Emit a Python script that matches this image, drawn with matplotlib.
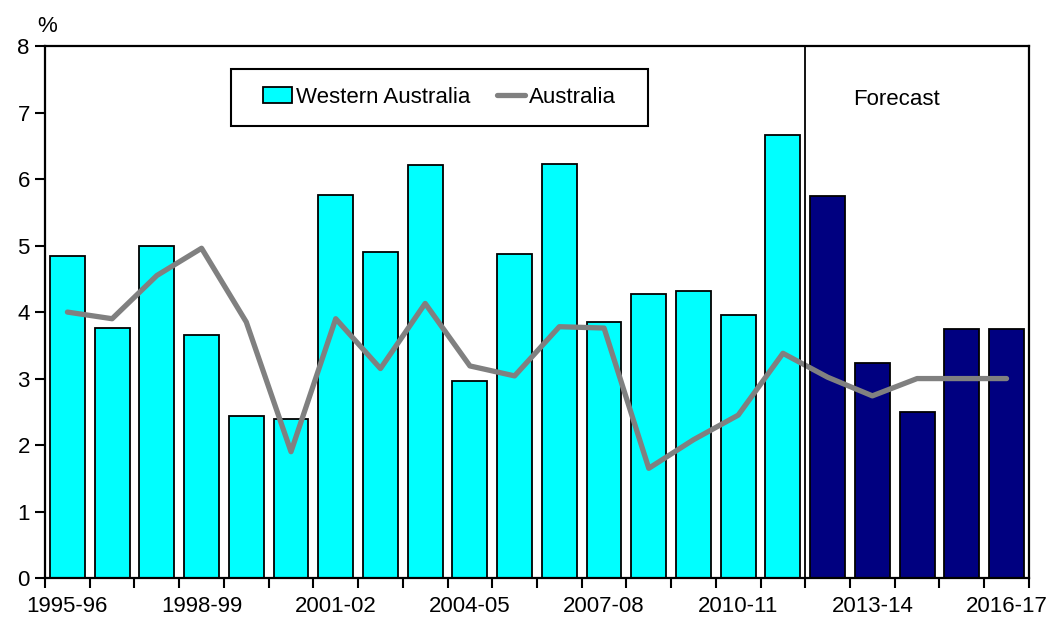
import matplotlib
matplotlib.use("Agg")
import matplotlib.pyplot as plt
from matplotlib.patches import Rectangle
import numpy as np

plt.rcParams['font.family'] = ['Liberation Sans', 'DejaVu Sans']

years = ["1995-96", "1996-97", "1997-98", "1998-99", "1999-00", "2000-01",
         "2001-02", "2002-03", "2003-04", "2004-05", "2005-06", "2006-07",
         "2007-08", "2008-09", "2009-10", "2010-11", "2011-12", "2012-13",
         "2013-14", "2014-15", "2015-16", "2016-17"]
wa_growth = [4.85, 3.76, 5.00, 3.66, 2.44, 2.39, 5.76, 4.90, 6.21, 2.97, 4.88,
             6.23, 3.85, 4.27, 4.31, 3.95, 6.66, 5.74, 3.24, 2.50, 3.74, 3.74]
aus_growth = [4.00, 3.90, 4.55, 4.96, 3.85, 1.90, 3.90, 3.15, 4.13, 3.19, 3.04,
              3.78, 3.76, 1.65, 2.08, 2.45, 3.38, 3.02, 2.74, 3.00, 3.00, 3.00]
n_actual = 17  # years up to 2011-12 are actuals, the rest are forecasts
labelled_years = ["1995-96", "1998-99", "2001-02", "2004-05", "2007-08",
                  "2010-11", "2013-14", "2016-17"]

FS = 16

fig = plt.figure(figsize=(10.5, 6.17), dpi=100)
ax = fig.add_axes([0.0429, 0.0632, 0.937, 0.862])

x = np.arange(len(years))
colors = ['#00FFFF' if i < n_actual else '#000080' for i in range(len(years))]
bars = ax.bar(x, wa_growth, width=0.78, color=colors, edgecolor='black',
              linewidth=1.3, zorder=2, label='Western Australia')
line, = ax.plot(x, aus_growth, color='#808080', linewidth=3.8, zorder=3,
                solid_capstyle='round', label='Australia')

# divider between actuals and forecasts
ax.axvline(n_actual - 0.5, color='black', linewidth=1.3, zorder=4)
ax.text(0.865, 0.90, 'Forecast', transform=ax.transAxes, ha='center',
        va='center', fontsize=FS)

ax.set_xlim(-0.5, len(years) - 0.5)
ax.set_ylim(0, 8)
ax.set_yticks(range(0, 9))
ax.tick_params(axis='y', direction='out', length=7, width=1.5, labelsize=FS, pad=4)

# tick marks at category boundaries, labels at selected category centres
ax.set_xticks(np.arange(-0.5, len(years)), labels=[])
ax.tick_params(axis='x', which='major', direction='out', length=7, width=1.5)
ax.set_xticks([years.index(y) for y in labelled_years], labels=labelled_years,
              minor=True)
ax.tick_params(axis='x', which='minor', length=0, labelsize=FS, pad=13)

for s in ax.spines.values():
    s.set_linewidth(1.6)
    s.set_color('black')

fig.text(47 / 1050, 1 - 27 / 617, '%', ha='center', va='center', fontsize=FS)

# legend box
box = (0.189, 0.850, 0.424, 0.107)
ax.add_patch(Rectangle(box[:2], box[2], box[3], transform=ax.transAxes,
                       facecolor='white', edgecolor='black', linewidth=1.5,
                       zorder=5))
leg = ax.legend(handles=[bars, line], ncol=2, loc='center',
                bbox_to_anchor=(box[0] + box[2] / 2, box[1] + box[3] / 2),
                frameon=False, fontsize=FS, handlelength=1.3,
                handleheight=0.75, handletextpad=0.15, columnspacing=1.2,
                borderaxespad=0, borderpad=0)
leg.set_zorder(6)

fig.savefig('out.png', dpi=100)
